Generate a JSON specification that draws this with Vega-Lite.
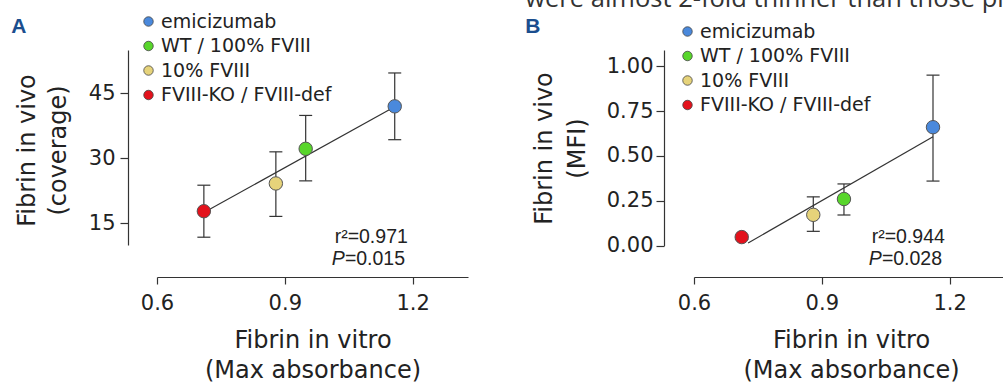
{
  "$schema": "https://vega.github.io/schema/vega-lite/v6.json",
  "width": 1003,
  "height": 385,
  "autosize": {"type": "none"},
  "padding": 0,
  "background": "white",
  "datasets": {
    "points": [
      {"panel": "A", "group": "emicizumab", "vitro": 1.158, "vivo": 42.0, "lo": 34.3, "hi": 49.7},
      {"panel": "A", "group": "WT / 100% FVIII", "vitro": 0.949, "vivo": 32.2, "lo": 24.8, "hi": 39.9},
      {"panel": "A", "group": "10% FVIII", "vitro": 0.879, "vivo": 24.2, "lo": 16.6, "hi": 31.5},
      {"panel": "A", "group": "FVIII-KO / FVIII-def", "vitro": 0.71, "vivo": 17.8, "lo": 11.8, "hi": 23.8},
      {"panel": "B", "group": "emicizumab", "vitro": 1.161, "vivo": 0.66, "lo": 0.36, "hi": 0.95},
      {"panel": "B", "group": "WT / 100% FVIII", "vitro": 0.952, "vivo": 0.26, "lo": 0.171, "hi": 0.344},
      {"panel": "B", "group": "10% FVIII", "vitro": 0.88, "vivo": 0.172, "lo": 0.08, "hi": 0.272},
      {"panel": "B", "group": "FVIII-KO / FVIII-def", "vitro": 0.712, "vivo": 0.048, "lo": 0.035, "hi": 0.06}
    ],
    "fits": [
      {"panel": "A", "vitro": 0.71, "vivo": 17.5},
      {"panel": "A", "vitro": 1.158, "vivo": 41.9},
      {"panel": "B", "vitro": 0.727, "vivo": 0.015},
      {"panel": "B", "vitro": 1.161, "vivo": 0.607}
    ]
  },
  "config": {
    "view": {"stroke": null},
    "axis": {
      "grid": false,
      "domainColor": "#333333",
      "domainWidth": 1.2,
      "tickColor": "#333333",
      "tickWidth": 1.2,
      "labelFont": "DejaVu Sans",
      "labelFontSize": 21,
      "labelColor": "#222222",
      "labelFlush": false,
      "labelOverlap": false,
      "titleFont": "DejaVu Sans",
      "titleFontSize": 24,
      "titleFontWeight": "normal",
      "titleColor": "#222222"
    },
    "text": {"font": "Liberation Sans", "color": "#222222"}
  },
  "resolve": {"scale": {"x": "independent", "y": "independent", "color": "independent"}},
  "layer": [
    {
      "layer": [
        {
          "data": {"name": "points"},
          "transform": [{"filter": "datum.panel === 'A'"}],
          "mark": {"type": "rule", "color": "#333333", "strokeWidth": 1.2},
          "encoding": {
            "x": {"field": "vitro", "type": "quantitative",
              "scale": {"domain": [0.6, 1.33], "range": [157, 468], "nice": false, "zero": false},
              "axis": {"orient": "bottom", "offset": -108, "values": [0.6, 0.9, 1.2], "format": ".1f",
                "tickSize": 7, "labelPadding": 8,
                "title": ["Fibrin in vitro", "(Max absorbance)"],
                "titleX": 312.5, "titleY": 70, "titleBaseline": "alphabetic", "titleAlign": "center", "titleLineHeight": 30}},
            "y": {"field": "lo", "type": "quantitative",
              "scale": {"domain": [10, 55], "range": [245, 50], "nice": false, "zero": false},
              "axis": {"orient": "left", "offset": -128, "values": [15, 30, 45],
                "tickSize": 8, "labelPadding": 5,
                "title": ["Fibrin in vivo", "(coverage)"],
                "titleX": -94, "titleY": 150, "titleAngle": 270, "titleBaseline": "alphabetic", "titleAlign": "center", "titleLineHeight": 31}},
            "y2": {"field": "hi"}
          }
        },
        {
          "data": {"name": "points"},
          "transform": [{"filter": "datum.panel === 'A'"}],
          "mark": {"type": "tick", "orient": "horizontal", "size": 13, "thickness": 1.2, "color": "#333333", "opacity": 1},
          "encoding": {
            "x": {"field": "vitro", "type": "quantitative"},
            "y": {"field": "lo", "type": "quantitative"}
          }
        },
        {
          "data": {"name": "points"},
          "transform": [{"filter": "datum.panel === 'A'"}],
          "mark": {"type": "tick", "orient": "horizontal", "size": 13, "thickness": 1.2, "color": "#333333", "opacity": 1},
          "encoding": {
            "x": {"field": "vitro", "type": "quantitative"},
            "y": {"field": "hi", "type": "quantitative"}
          }
        },
        {
          "data": {"name": "fits"},
          "transform": [{"filter": "datum.panel === 'A'"}],
          "mark": {"type": "line", "color": "#333333", "strokeWidth": 1.2},
          "encoding": {
            "x": {"field": "vitro", "type": "quantitative"},
            "y": {"field": "vivo", "type": "quantitative"}
          }
        },
        {
          "data": {"name": "points"},
          "transform": [{"filter": "datum.panel === 'A'"}],
          "mark": {"type": "circle", "size": 180, "opacity": 1, "stroke": "#555555", "strokeWidth": 1},
          "encoding": {
            "x": {"field": "vitro", "type": "quantitative"},
            "y": {"field": "vivo", "type": "quantitative"},
            "color": {"field": "group", "type": "nominal",
              "scale": {"domain": ["emicizumab", "WT / 100% FVIII", "10% FVIII", "FVIII-KO / FVIII-def"],
                        "range": ["#4a89dc", "#58d62b", "#e6d37a", "#e3121c"]},
              "legend": {"orient": "none", "legendX": 139, "legendY": 12, "title": null,
                "symbolType": "circle", "symbolSize": 90, "symbolStrokeColor": "#444444", "symbolStrokeWidth": 0.8,
                "symbolOpacity": 1, "labelFont": "DejaVu Sans", "labelFontSize": 19, "labelColor": "#222222",
                "labelOffset": 3, "rowPadding": 4.5, "padding": 0, "labelLimit": 400}}
          }
        },
        {
          "data": {"values": [{}]},
          "mark": {"type": "text", "align": "left", "baseline": "alphabetic", "fontSize": 19.5},
          "encoding": {
            "x": {"datum": 1.017, "type": "quantitative"},
            "y": {"datum": 10.38, "type": "quantitative"},
            "text": {"value": "r²=0.971"}
          }
        },
        {
          "data": {"values": [{}]},
          "mark": {"type": "text", "align": "right", "baseline": "alphabetic", "fontSize": 19.5, "fontStyle": "italic"},
          "encoding": {
            "x": {"datum": 1.041, "type": "quantitative"},
            "y": {"datum": 5.31, "type": "quantitative"},
            "text": {"value": "P"}
          }
        },
        {
          "data": {"values": [{}]},
          "mark": {"type": "text", "align": "left", "baseline": "alphabetic", "fontSize": 19.5},
          "encoding": {
            "x": {"datum": 1.041, "type": "quantitative"},
            "y": {"datum": 5.31, "type": "quantitative"},
            "text": {"value": "=0.015"}
          }
        },
        {
          "data": {"values": [{}]},
          "mark": {"type": "text", "align": "left", "baseline": "alphabetic", "fontSize": 21, "fontWeight": "bold", "color": "#1b4e8e"},
          "encoding": {
            "x": {"datum": 0.258, "type": "quantitative"},
            "y": {"datum": 58.85, "type": "quantitative"},
            "text": {"value": "A"}
          }
        }
      ]
    },
    {
      "layer": [
        {
          "data": {"name": "points"},
          "transform": [{"filter": "datum.panel === 'B'"}],
          "mark": {"type": "rule", "color": "#333333", "strokeWidth": 1.2},
          "encoding": {
            "x": {"field": "vitro", "type": "quantitative",
              "scale": {"domain": [0.6, 1.33], "range": [694, 1005], "nice": false, "zero": false},
              "axis": {"orient": "bottom", "offset": -108, "values": [0.6, 0.9, 1.2], "format": ".1f",
                "tickSize": 7, "labelPadding": 8,
                "title": ["Fibrin in vitro", "(Max absorbance)"],
                "titleX": 851, "titleY": 70, "titleBaseline": "alphabetic", "titleAlign": "center", "titleLineHeight": 30}},
            "y": {"field": "lo", "type": "quantitative",
              "scale": {"domain": [0, 1.09], "range": [245.7, 50], "nice": false, "zero": false},
              "axis": {"orient": "left", "offset": -664, "values": [0, 0.25, 0.5, 0.75, 1], "format": ".2f",
                "tickSize": 8, "labelPadding": 3,
                "title": ["Fibrin in vivo", "(MFI)"],
                "titleX": -113, "titleY": 148, "titleAngle": 270, "titleBaseline": "alphabetic", "titleAlign": "center", "titleLineHeight": 33}},
            "y2": {"field": "hi"}
          }
        },
        {
          "data": {"name": "points"},
          "transform": [{"filter": "datum.panel === 'B'"}],
          "mark": {"type": "tick", "orient": "horizontal", "size": 13, "thickness": 1.2, "color": "#333333", "opacity": 1},
          "encoding": {
            "x": {"field": "vitro", "type": "quantitative"},
            "y": {"field": "lo", "type": "quantitative"}
          }
        },
        {
          "data": {"name": "points"},
          "transform": [{"filter": "datum.panel === 'B'"}],
          "mark": {"type": "tick", "orient": "horizontal", "size": 13, "thickness": 1.2, "color": "#333333", "opacity": 1},
          "encoding": {
            "x": {"field": "vitro", "type": "quantitative"},
            "y": {"field": "hi", "type": "quantitative"}
          }
        },
        {
          "data": {"name": "fits"},
          "transform": [{"filter": "datum.panel === 'B'"}],
          "mark": {"type": "line", "color": "#333333", "strokeWidth": 1.2},
          "encoding": {
            "x": {"field": "vitro", "type": "quantitative"},
            "y": {"field": "vivo", "type": "quantitative"}
          }
        },
        {
          "data": {"name": "points"},
          "transform": [{"filter": "datum.panel === 'B'"}],
          "mark": {"type": "circle", "size": 180, "opacity": 1, "stroke": "#555555", "strokeWidth": 1},
          "encoding": {
            "x": {"field": "vitro", "type": "quantitative"},
            "y": {"field": "vivo", "type": "quantitative"},
            "color": {"field": "group", "type": "nominal",
              "scale": {"domain": ["emicizumab", "WT / 100% FVIII", "10% FVIII", "FVIII-KO / FVIII-def"],
                        "range": ["#4a89dc", "#58d62b", "#e6d37a", "#e3121c"]},
              "legend": {"orient": "none", "legendX": 678, "legendY": 22, "title": null,
                "symbolType": "circle", "symbolSize": 90, "symbolStrokeColor": "#444444", "symbolStrokeWidth": 0.8,
                "symbolOpacity": 1, "labelFont": "DejaVu Sans", "labelFontSize": 19, "labelColor": "#222222",
                "labelOffset": 3, "rowPadding": 4.5, "padding": 0, "labelLimit": 400}}
          }
        },
        {
          "data": {"values": [{}]},
          "mark": {"type": "text", "align": "left", "baseline": "alphabetic", "fontSize": 19.5},
          "encoding": {
            "x": {"datum": 1.017, "type": "quantitative"},
            "y": {"datum": 0.015, "type": "quantitative"},
            "text": {"value": "r²=0.944"}
          }
        },
        {
          "data": {"values": [{}]},
          "mark": {"type": "text", "align": "right", "baseline": "alphabetic", "fontSize": 19.5, "fontStyle": "italic"},
          "encoding": {
            "x": {"datum": 1.041, "type": "quantitative"},
            "y": {"datum": -0.1075, "type": "quantitative"},
            "text": {"value": "P"}
          }
        },
        {
          "data": {"values": [{}]},
          "mark": {"type": "text", "align": "left", "baseline": "alphabetic", "fontSize": 19.5},
          "encoding": {
            "x": {"datum": 1.041, "type": "quantitative"},
            "y": {"datum": -0.1075, "type": "quantitative"},
            "text": {"value": "=0.028"}
          }
        },
        {
          "data": {"values": [{}]},
          "mark": {"type": "text", "align": "left", "baseline": "alphabetic", "fontSize": 21, "fontWeight": "bold", "color": "#1b4e8e"},
          "encoding": {
            "x": {"datum": 0.204, "type": "quantitative"},
            "y": {"datum": 1.185, "type": "quantitative"},
            "text": {"value": "B"}
          }
        },
        {
          "data": {"values": [{}]},
          "mark": {"type": "text", "align": "left", "baseline": "alphabetic", "fontSize": 25.5, "font": "Open Sans", "color": "#333333"},
          "encoding": {
            "x": {"datum": 0.204, "type": "quantitative"},
            "y": {"datum": 1.33, "type": "quantitative"},
            "text": {"value": "were almost 2-fold thinner than those pl"}
          }
        }
      ]
    }
  ]
}
